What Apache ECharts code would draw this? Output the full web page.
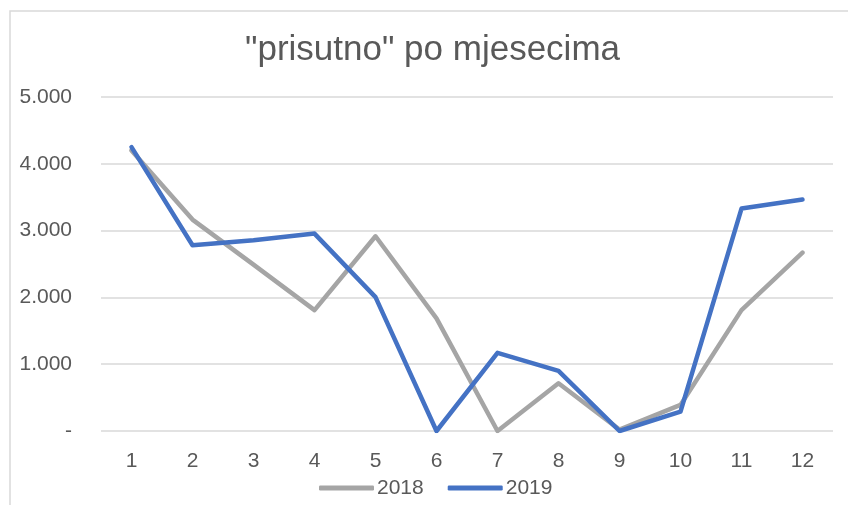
<!DOCTYPE html>
<html>
<head>
<meta charset="utf-8">
<script src="https://cdn.jsdelivr.net/npm/echarts@6/dist/echarts.min.js"></script>
<style>html,body{margin:0;padding:0;background:#fff}#c{width:848px;height:505px}</style>
</head>
<body>
<div id="c"></div>
<script>
const titleText = '"prisutno" po mjesecima';
const months = ['1','2','3','4','5','6','7','8','9','10','11','12'];
const seriesNames = ['2018', '2019'];
const values2018 = [4200, 3165, 2490, 1810, 2915, 1685, 0, 715, 20, 390, 1810, 2670];
const values2019 = [4250, 2780, 2855, 2955, 2005, 0, 1170, 900, 0, 290, 3330, 3465];
const yTicks = [0, 1000, 2000, 3000, 4000, 5000];

const chart = echarts.init(document.getElementById('c'), null, {renderer: 'canvas'});
const font = '"Liberation Sans", Arial, sans-serif';
chart.setOption({
  animation: false,
  backgroundColor: '#fff',
  title: {
    text: titleText, left: 240, top: 28, padding: [5, 5, 5, 5],
    textStyle: {fontFamily: font, fontSize: 35, fontWeight: 'normal', color: '#595959'}
  },
  graphic: [{
    type: 'rect', shape: {x: 10, y: 11, width: 900, height: 600},
    style: {fill: 'none', stroke: '#D9D9D9', lineWidth: 1.5}, silent: true, z: -1
  }],
  legend: {
    top: 472, left: 314, itemWidth: 55, itemHeight: 5, itemGap: 24,
    icon: 'roundRect',
    textStyle: {fontFamily: font, fontSize: 21, lineHeight: 22, color: '#595959', padding: [0, 0, 0, -2]},
    data: seriesNames
  },
  grid: {left: 101, right: 15, top: 97, bottom: 74},
  xAxis: {
    type: 'category', data: months, boundaryGap: true,
    axisLine: {show: false}, axisTick: {show: false},
    axisLabel: {fontFamily: font, fontSize: 21, color: '#595959', margin: 20}
  },
  yAxis: {
    type: 'value', min: 0, max: 5000, interval: 1000,
    axisLine: {show: false}, axisTick: {show: false},
    splitLine: {lineStyle: {color: '#D9D9D9', width: 1.5}},
    axisLabel: {
      fontFamily: font, fontSize: 21, color: '#595959', margin: 29,
      formatter: v => v === 0 ? '-' : (v / 1000).toFixed(3)
    }
  },
  series: [
    {name: seriesNames[0], type: 'line', data: values2018, symbol: 'none',
     itemStyle: {color: '#A5A5A5'}, lineStyle: {color: '#A5A5A5', width: 4.5, cap: 'round', join: 'round'}},
    {name: seriesNames[1], type: 'line', data: values2019, symbol: 'none',
     itemStyle: {color: '#4472C4'}, lineStyle: {color: '#4472C4', width: 4.5, cap: 'round', join: 'round'}}
  ]
});
</script>
</body>
</html>
